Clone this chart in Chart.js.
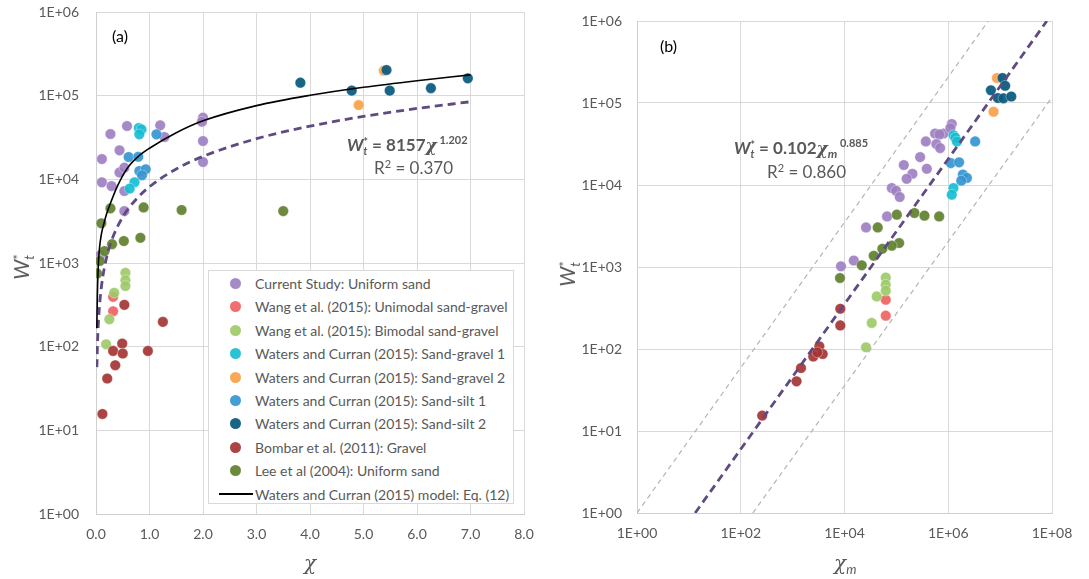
<!DOCTYPE html>
<html>
<head>
<meta charset="utf-8">
<script src="https://cdn.jsdelivr.net/npm/chart.js@4.4.0/dist/chart.umd.min.js"></script>
<style>
body { margin: 0; background: #fff; font-family: Lato, sans-serif; }
#wrap { position: relative; width: 1089px; height: 579px; overflow: hidden; }
canvas { position: absolute; top: 0; }
.txt { position: absolute; color: #595959; white-space: nowrap; line-height: 1; }
.panel { position: absolute; color: #000; font-size: 16px; }
.ss { display: inline-block; vertical-align: middle; font-size: 0.62em; line-height: 0.8; text-align: left; }
.ss span { display: block; }
.chi { font-family: "DejaVu Serif", serif; font-style: italic; }
#legend { position: absolute; left: 208px; top: 270px; width: 306px; height: 234px; border: 1px solid #d9d9d9; background: #fff; box-sizing: border-box; }
.row { position: absolute; left: 0; height: 20px; font-size: 14px; color: #595959; white-space: nowrap; }
.dot { position: absolute; left: 21px; top: 5px; width: 11px; height: 11px; border-radius: 50%; }
.lbl { position: absolute; left: 46px; top: 2px; }
.lin { position: absolute; left: 10px; top: 9px; width: 34px; height: 2px; background: #000; }
</style>
</head>
<body>
<div id="wrap">
  <canvas id="chartA" width="545" height="579" style="left:0"></canvas>
  <canvas id="chartB" width="544" height="579" style="left:545px"></canvas>

  <div class="panel" style="left:112px; top:26px;">(a)</div>
  <div class="panel" style="left:660px; top:36px;">(b)</div>

  <div class="txt" style="left:-8px; top:255px; width:60px; text-align:center; font-size:21px; transform:rotate(-90deg);"><i>W</i><span class="ss"><span>*</span><span><i>t</i></span></span></div>
  <div class="txt" style="left:538px; top:262px; width:60px; text-align:center; font-size:21px; transform:rotate(-90deg);"><i>W</i><span class="ss"><span>*</span><span><i>t</i></span></span></div>

  <div class="txt chi" style="left:304px; top:553px; font-size:20px;">χ</div>
  <div class="txt chi" style="left:834px; top:553px; font-size:20px;">χ<span style="font-size:13px; font-family:Lato; vertical-align:-4px;">m</span></div>

  <div class="txt" style="left:347px; top:134px; font-size:17px; font-weight:bold;"><i>W</i><span class="ss"><span>*</span><span><i>t</i></span></span> = 8157<span class="chi">χ</span><span style="font-size:11px; vertical-align:7px;"> 1.202</span></div>
  <div class="txt" style="left:374px; top:158px; font-size:17px;">R<span style="font-size:11px; vertical-align:6px;">2</span> = 0.370</div>

  <div class="txt" style="left:734px; top:137px; font-size:17px; font-weight:bold;"><i>W</i><span class="ss"><span>*</span><span><i>t</i></span></span> = 0.102<span class="chi">χ</span><span style="font-size:12px; font-style:italic; vertical-align:-4px;">m</span><span style="font-size:11px; vertical-align:7px;"> 0.885</span></div>
  <div class="txt" style="left:767px; top:162px; font-size:17px;">R<span style="font-size:11px; vertical-align:6px;">2</span> = 0.860</div>

  <div id="legend"></div>
</div>

<script>
// ---- data ----
var seriesNames = [
    'Current Study: Uniform sand',
    'Wang et al. (2015): Unimodal sand-gravel',
    'Wang et al. (2015): Bimodal sand-gravel',
    'Waters and Curran (2015): Sand-gravel 1',
    'Waters and Curran (2015): Sand-gravel 2',
    'Waters and Curran (2015): Sand-silt 1',
    'Waters and Curran (2015): Sand-silt 2',
    'Bombar et al. (2011): Gravel',
    'Lee et al (2004): Uniform sand'
];
var modelName = 'Waters and Curran (2015) model: Eq. (12)';
var seriesColors = [
    'rgba(158,128,194,0.92)',
    'rgba(240,98,98,0.92)',
    'rgba(158,202,104,0.92)',
    'rgba(22,190,210,0.92)',
    'rgba(250,160,72,0.92)',
    'rgba(52,150,208,0.92)',
    'rgba(14,92,128,0.95)',
    'rgba(166,52,52,0.92)',
    'rgba(100,132,52,0.95)'
];

// panel (a): [chi, Wt*]
var aCurrent = [[0.27,34800],[0.58,43400],[0.11,17500],[0.44,22200],[0.11,9200],[0.29,8300],[0.44,12100],[0.53,13800],[0.53,7240],[0.53,4170],[1.2,44200],[1.28,32100],[2.0,54600],[1.98,48900],[2.0,28700],[2.0,16100],[0.08,1240]];
var aUnimodal = [[0.32,394],[0.32,265]];
var aBimodal = [[0.55,764],[0.55,624],[0.55,530],[0.34,440],[0.25,213],[0.19,107]];
var aSandGravel1 = [[0.80,41100],[0.85,39500],[0.81,34500],[0.72,9230],[0.63,7760]];
var aSandGravel2 = [[5.38,199000],[4.91,77300]];
var aSandSilt1 = [[1.13,34500],[0.61,18500],[0.79,18600],[0.81,12600],[0.93,13200],[0.86,11200]];
var aSandSilt2 = [[3.82,143000],[4.78,115000],[5.43,203000],[5.49,115000],[6.26,123000],[6.95,161000]];
var aGravel = [[0.53,316],[1.25,198],[0.49,109],[0.32,89],[0.50,83],[0.97,89],[0.36,60],[0.21,41.7],[0.12,15.7]];
var aLee = [[0.27,4500],[0.89,4620],[0.10,2980],[0.30,1680],[0.52,1830],[0.83,2000],[0.16,1390],[0.07,1060],[0.02,751],[1.6,4300],[3.5,4170]];

var modelChi = [0.015,0.025,0.04,0.06,0.1,0.15,0.2,0.3,0.4,0.6,0.8,1.0,1.5,2.0,3.0,4.0,5.0,6.0,7.0];
var modelW = [166,400,850,1400,2200,3000,3900,5800,8300,14000,19000,23500,36000,50000,76000,101000,126000,151000,177000];
var fitAChi = [0.016,0.03,0.05,0.1,0.2,0.3,0.5,0.75,1,1.5,2,3,4,5,6,7];
var fitAW = [57,120,223,512,1180,1920,3550,5770,8160,13300,18800,30600,43200,56500,70300,84600];

// panel (b): [chi_m, Wt*]
var bCurrent = [[5.58e5,42500],[8.07e5,42500],[6.76e5,41400],[1.17e6,55500],[1.10e6,49500],[3.7e5,34000],[5.9e5,31600],[6.98e5,28200],[2.87e5,21900],[1.39e5,17500],[3.86e5,15800],[2.04e5,13700],[1.58e5,11900],[8.15e4,9190],[9.86e4,8510],[1.16e5,7140],[6.6e4,4140],[2.6e4,3040],[1.51e4,1200],[8550,1020]];
var bUnimodal = [[6.24e4,399],[6.24e4,255]];
var bBimodal = [[6.24e4,746],[6.24e4,608],[6.24e4,514],[4.18e4,438],[3.35e4,208],[2.6e4,105]];
var bSandGravel1 = [[1.26e6,40300],[1.37e6,37800],[1.47e6,34000],[1.26e6,9180],[1.17e6,7620]];
var bSandGravel2 = [[8.67e6,202000],[7.46e6,78300]];
var bSandSilt1 = [[3.3e6,34000],[1.12e6,18500],[1.62e6,18900],[1.91e6,13400],[2.29e6,12200],[1.78e6,11300]];
var bSandSilt2 = [[1.11e7,202000],[1.25e7,162000],[6.64e6,143000],[9.06e6,115000],[1.16e7,114000],[1.64e7,120000]];
var bGravel = [[8300,310],[8300,194],[3270,108],[3800,87],[2500,81],[2990,91],[1450,58.6],[1190,40.3],[259,15.4]];
var bLee = [[1.02e5,4350],[2.23e5,4560],[3.48e5,4230],[6.68e5,4140],[4.37e4,3040],[1.13e5,1960],[8.15e4,1820],[5.37e4,1670],[3.66e4,1370],[2.15e4,1050],[8190,734]];

var fitBX = [13.2, 7.95e7];
var fitBW = [1, 1e6];
var upperX = [1, 5.9e6];
var upperW = [1, 1e6];
var lowerX = [171, 1e8];
var lowerW = [1, 1.17e5];

var yTicks = [1, 10, 100, 1000, 10000, 100000, 1000000];
var xTicksA = [0, 1, 2, 3, 4, 5, 6, 7, 8];
var xTicksB = [1, 100, 10000, 1000000, 100000000];

var aSeries = [aCurrent, aUnimodal, aBimodal, aSandGravel1, aSandGravel2, aSandSilt1, aSandSilt2, aGravel, aLee];
var bSeries = [bCurrent, bUnimodal, bBimodal, bSandGravel1, bSandGravel2, bSandSilt1, bSandSilt2, bGravel, bLee];

// ---- helpers ----
function toPoints(list) {
    return list.map(function (p) { return { x: p[0], y: p[1] }; });
}
function zipPoints(xs, ys) {
    return xs.map(function (x, i) { return { x: x, y: ys[i] }; });
}
function expLabel(v) {
    var e = Math.round(Math.log10(v));
    return '1E+' + (e < 10 ? '0' : '') + e;
}
function pointSets(series) {
    return series.map(function (list, i) {
        return {
            type: 'scatter',
            label: seriesNames[i],
            data: toPoints(list),
            backgroundColor: seriesColors[i],
            borderColor: 'rgba(255,255,255,0.35)',
            borderWidth: 1,
            pointRadius: 5.3,
            order: 20 - i
        };
    });
}
function lineSet(label, data, color, width, dash, smooth) {
    return {
        type: 'line',
        label: label,
        data: data,
        borderColor: color,
        borderWidth: width,
        borderDash: dash,
        pointRadius: 0,
        fill: false,
        cubicInterpolationMode: smooth ? 'monotone' : 'default',
        tension: 0,
        order: 0
    };
}

var tickFont = { family: 'Lato', size: 14 };
var gridColor = '#d9d9d9';

// fixed axis sizes so the plot areas land where the figure has them
function noPad(s) {
    s.paddingTop = 0;
    s.paddingBottom = 0;
    s.paddingLeft = 0;
    s.paddingRight = 0;
}

function yAxis(width, pad) {
    return {
        type: 'logarithmic',
        min: 1,
        max: 1e6,
        afterBuildTicks: function (axis) {
            axis.ticks = yTicks.map(function (v) { return { value: v }; });
        },
        afterFit: function (s) { s.width = width; noPad(s); },
        ticks: { callback: expLabel, font: tickFont, color: '#595959', padding: pad, autoSkip: false },
        grid: { color: gridColor, drawTicks: false },
        border: { color: '#cfcfcf' }
    };
}

// ---- panel (a) ----
var dataA = pointSets(aSeries);
dataA.push(lineSet(modelName, zipPoints(modelChi, modelW), '#000', 1.6, [], true));
dataA.push(lineSet('fit a', zipPoints(fitAChi, fitAW), '#5f4b80', 2.8, [8, 5], true));

new Chart(document.getElementById('chartA'), {
    type: 'scatter',
    data: { datasets: dataA },
    options: {
        responsive: false,
        animation: false,
        devicePixelRatio: 1,
        layout: { padding: { left: 0, top: 12, right: 21, bottom: 0 } },
        plugins: { legend: { display: false }, tooltip: { enabled: false } },
        scales: {
            x: {
                type: 'linear',
                min: 0,
                max: 8,
                afterBuildTicks: function (axis) {
                    axis.ticks = xTicksA.map(function (v) { return { value: v }; });
                },
                afterFit: function (s) { s.height = 65; noPad(s); },
                ticks: { callback: function (v) { return v.toFixed(1); }, font: tickFont, color: '#595959', padding: 12 },
                grid: { color: gridColor, drawTicks: false },
                border: { color: '#cfcfcf' }
            },
            y: yAxis(96, 17)
        }
    }
});

// ---- panel (b) ----
var dataB = pointSets(bSeries);
dataB.push(lineSet('fit b', zipPoints(fitBX, fitBW), '#5f4b80', 2.8, [8, 5], false));
dataB.push(lineSet('upper', zipPoints(upperX, upperW), '#b4b4b4', 1.2, [5, 4], false));
dataB.push(lineSet('lower', zipPoints(lowerX, lowerW), '#b4b4b4', 1.2, [5, 4], false));

new Chart(document.getElementById('chartB'), {
    type: 'scatter',
    data: { datasets: dataB },
    options: {
        responsive: false,
        animation: false,
        devicePixelRatio: 1,
        layout: { padding: { left: 0, top: 21, right: 37, bottom: 0 } },
        plugins: { legend: { display: false }, tooltip: { enabled: false } },
        scales: {
            x: {
                type: 'logarithmic',
                min: 1,
                max: 1e8,
                afterBuildTicks: function (axis) {
                    axis.ticks = xTicksB.map(function (v) { return { value: v }; });
                },
                afterFit: function (s) { s.height = 66; noPad(s); },
                ticks: { callback: expLabel, font: tickFont, color: '#595959', padding: 12, autoSkip: false, maxRotation: 0 },
                grid: { color: gridColor, drawTicks: false },
                border: { color: '#cfcfcf' }
            },
            y: yAxis(92, 15)
        }
    }
});

// ---- legend for panel (a) ----
var legend = document.getElementById('legend');
var rowsHtml = '';
seriesNames.forEach(function (name, i) {
    rowsHtml += '<div class="row" style="top:' + (2 + i * 23.4) + 'px">' +
        '<div class="dot" style="background:' + seriesColors[i] + '"></div>' +
        '<div class="lbl">' + name + '</div></div>';
});
rowsHtml += '<div class="row" style="top:' + (2 + 9 * 23.4) + 'px">' +
    '<div class="lin"></div><div class="lbl">' + modelName + '</div></div>';
legend.innerHTML = rowsHtml;
</script>
</body>
</html>
